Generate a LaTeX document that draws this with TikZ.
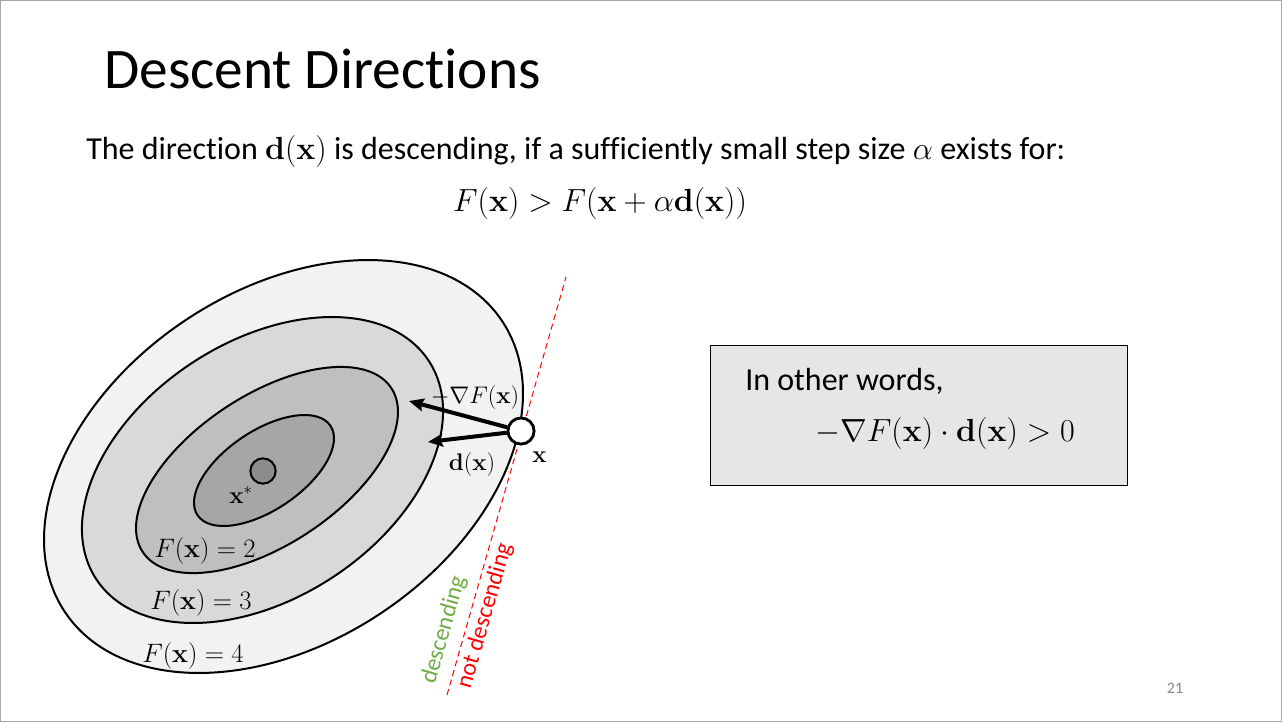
\RequirePackage{fix-cm}
\documentclass[tikz,border=0pt]{standalone}
\usepackage[no-math]{fontspec}
\setmainfont{Carlito}[Ligatures=NoCommon]
\usetikzlibrary{arrows.meta}
\definecolor{ringfour}{HTML}{F2F2F2}
\definecolor{ringthree}{HTML}{D9D9D9}
\definecolor{ringtwo}{HTML}{BFBFBF}
\definecolor{ringone}{HTML}{A6A6A6}
\definecolor{minfill}{HTML}{8C8C8C}
\definecolor{boxfill}{HTML}{E7E6E6}
\definecolor{descgreen}{HTML}{70AD47}
\definecolor{pagegray}{HTML}{898989}
\tikzset{
contour/.style={
	  draw, line width=1.5pt, fill=#1},
levellabel/.style={font=\fontsize{20}{24}\selectfont, inner sep=0pt, anchor=base},
ptlabel/.style={font=\fontsize{18}{22}\selectfont, inner sep=0pt, anchor=base},
gradarrow/.style={line width=3pt, -{Stealth[length=11pt,width=9.5pt,inset=1.5pt]}},
sidelabel/.style={font=\fontsize{18}{22}\selectfont, rotate=74, inner sep=0pt}
}
\newcommand{\bx}{\mathbf{x}}
\newcommand{\bd}{\mathbf{d}}

\begin{document}
\begin{tikzpicture}[x=0.75pt, y=-0.75pt]
	\useasboundingbox (0,0) rectangle (1282,722);
	\fill[white] (0,0) rectangle (1282,722);
	\draw[ringone, line width=0.75pt] (0.5,0.5) rectangle (1281.5,721.5);

	\node[anchor=base west, inner sep=0pt, font=\fontsize{43}{50}\selectfont] (title) at (104,88) {Descent Directions};
	\node[anchor=base west, inner sep=0pt, font=\fontsize{24}{29}\selectfont] (defline) at (86,159)
		{The direction $\bd(\bx)$ is descending, if a sufficiently small step size $\alpha$ exists for:};
	\node[anchor=base, inner sep=0pt, font=\fontsize{24}{29}\selectfont] (cond) at (600,211)
		{$F(\bx) > F\bigl(\bx+\alpha\bd(\bx)\bigr)$};

	% level sets
	\draw[contour=ringfour, rotate around={33.6:(283.5,466.5)}] (283.5,466.5) ellipse [x radius=262.6, y radius=176.1];
	\draw[contour=ringthree, rotate around={33.3:(262.5,470)}] (262.5,470) ellipse [x radius=198.9, y radius=128.2];
	\draw[contour=ringtwo, rotate around={33.4:(267,470)}] (267,470) ellipse [x radius=148.9, y radius=74.9];
	\draw[contour=ringone, rotate around={34:(264,470.5)}] (264,470.5) ellipse [x radius=80.1, y radius=39.5];
	\node[circle, draw, line width=1.5pt, fill=minfill, minimum size=19pt, inner sep=0pt] (xstar) at (263,471) {};
	\node[ptlabel, anchor=base west] (xstarlabel) at (229,503) {$\bx^*$};

	\node[levellabel] (ftwo) at (205,557) {$F(\bx) = 2$};
	\node[levellabel] (fthree) at (201,609) {$F(\bx) = 3$};
	\node[levellabel] (ffour) at (193,662) {$F(\bx) = 4$};

	% tangent line
	\coordinate (tantop) at (566,277);
	\coordinate (tanbot) at (447,695);
	\draw[red, line width=0.75pt, dash pattern=on 4.5pt off 3pt] (tanbot) -- (tantop);
	\node[sidelabel, text=descgreen] (desc) at (444,630) {descending};
	\node[sidelabel, text=red] (notdesc) at (485,616) {not descending};

	% current point and directions
	\node[circle, draw, line width=2pt, fill=white, minimum size=19.5pt, inner sep=0pt] (xpt) at (521,431) {};
	\coordinate (gradtip) at (409,401);
	\coordinate (dirtip) at (428,442);
	\draw[gradarrow] (xpt) -- (gradtip);
	\draw[gradarrow] (xpt) -- (dirtip);
	\node[circle, draw, line width=2pt, fill=white, minimum size=19.5pt, inner sep=0pt] at (xpt) {};
	\node[ptlabel] (gradlabel) at (475,403) {$-\nabla F(\bx)$};
	\node[ptlabel] (dirlabel) at (472,470) {$\bd(\bx)$};
	\node[ptlabel] (xlabel) at (539.5,462) {$\bx$};

	% remark box
	\node[draw, fill=boxfill, line width=0.75pt, minimum width=312.75pt, minimum height=105pt, inner sep=0pt] (remark) at (918.5,415) {};
	\node[anchor=base west, inner sep=0pt, font=\fontsize{24}{29}\selectfont] (remarktext) at (745,390) {In other words,};
	\node[anchor=base, inner sep=0pt, font=\fontsize{24}{29}\selectfont] (remarkeq) at (945,441)
		{$-\nabla F(\bx)\cdot\bd(\bx) > 0$};

	\node[font=\fontsize{12}{14}\selectfont, text=pagegray] (pageno) at (1175,688) {21};
\end{tikzpicture}
\end{document}
